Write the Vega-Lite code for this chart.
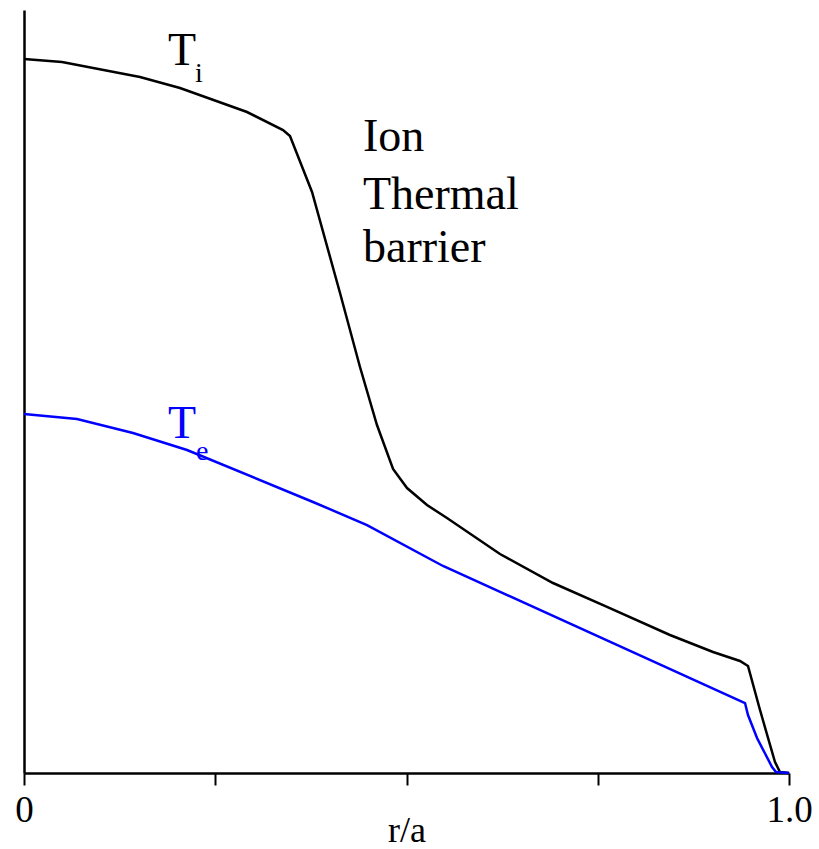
{
  "$schema": "https://vega.github.io/schema/vega-lite/v6.json",
  "autosize": "none",
  "width": 765,
  "height": 763,
  "padding": {"left": 24, "top": 10, "right": 30, "bottom": 76},
  "background": "white",
  "config": {
    "view": {"stroke": null},
    "font": "Liberation Serif"
  },
  "datasets": {
    "profiles": [
      {"series": "Ti", "r": 0, "T": 93.58},
      {"series": "Ti", "r": 0.0497, "T": 93.18},
      {"series": "Ti", "r": 0.1516, "T": 91.22},
      {"series": "Ti", "r": 0.2039, "T": 89.78},
      {"series": "Ti", "r": 0.2915, "T": 86.63},
      {"series": "Ti", "r": 0.3386, "T": 84.27},
      {"series": "Ti", "r": 0.3477, "T": 83.49},
      {"series": "Ti", "r": 0.3765, "T": 76.15},
      {"series": "Ti", "r": 0.4131, "T": 62.91},
      {"series": "Ti", "r": 0.4392, "T": 53.21},
      {"series": "Ti", "r": 0.4614, "T": 45.61},
      {"series": "Ti", "r": 0.4824, "T": 39.84},
      {"series": "Ti", "r": 0.5007, "T": 37.35},
      {"series": "Ti", "r": 0.5268, "T": 35.12},
      {"series": "Ti", "r": 0.5529, "T": 33.42},
      {"series": "Ti", "r": 0.6222, "T": 28.7},
      {"series": "Ti", "r": 0.6915, "T": 24.9},
      {"series": "Ti", "r": 0.7621, "T": 21.76},
      {"series": "Ti", "r": 0.8444, "T": 18.09},
      {"series": "Ti", "r": 0.9007, "T": 15.86},
      {"series": "Ti", "r": 0.9359, "T": 14.68},
      {"series": "Ti", "r": 0.9464, "T": 14.02},
      {"series": "Ti", "r": 0.9621, "T": 8.26},
      {"series": "Ti", "r": 0.9817, "T": 1.44},
      {"series": "Ti", "r": 0.9882, "T": 0.13},
      {"series": "Ti", "r": 1.0, "T": 0},
      {"series": "Te", "r": 0, "T": 47.05},
      {"series": "Te", "r": 0.0693, "T": 46.4},
      {"series": "Te", "r": 0.1425, "T": 44.56},
      {"series": "Te", "r": 0.2131, "T": 42.33},
      {"series": "Te", "r": 0.3778, "T": 35.52},
      {"series": "Te", "r": 0.4484, "T": 32.5},
      {"series": "Te", "r": 0.5477, "T": 27.13},
      {"series": "Te", "r": 0.9425, "T": 9.17},
      {"series": "Te", "r": 0.9464, "T": 7.6},
      {"series": "Te", "r": 0.9582, "T": 4.59},
      {"series": "Te", "r": 0.9778, "T": 0.79},
      {"series": "Te", "r": 0.983, "T": 0.13},
      {"series": "Te", "r": 1.0, "T": 0}
    ],
    "labels": [
      {"series": "Ti", "kind": "main", "r": 0.1882, "T": 92.79, "text": "T"},
      {"series": "Ti", "kind": "sub", "r": 0.2235, "T": 90.56, "text": "i"},
      {"series": "Te", "kind": "main", "r": 0.1882, "T": 43.91, "text": "T"},
      {"series": "Te", "kind": "sub", "r": 0.2248, "T": 41.02, "text": "e"},
      {"series": "Ti", "kind": "main", "r": 0.4431, "T": 81.52, "text": "Ion"},
      {"series": "Ti", "kind": "main", "r": 0.4431, "T": 73.92, "text": "Thermal"},
      {"series": "Ti", "kind": "main", "r": 0.4431, "T": 66.97, "text": "barrier"}
    ]
  },
  "layer": [
    {
      "data": {"name": "profiles"},
      "mark": {"type": "line", "strokeWidth": 2.5},
      "encoding": {
        "x": {
          "field": "r",
          "type": "quantitative",
          "scale": {"domain": [0, 1], "nice": false, "zero": false},
          "axis": {
            "title": "r/a",
            "titleFont": "Liberation Serif",
            "titleFontSize": 36,
            "titleFontWeight": "normal",
            "titleColor": "black",
            "titleBaseline": "alphabetic",
            "titleY": 68,
            "values": [0, 0.25, 0.5, 0.75, 1],
            "labelExpr": "datum.value == 0 ? '0' : datum.value == 1 ? '1.0' : ''",
            "labelFont": "Liberation Serif",
            "labelFontSize": 37,
            "labelColor": "black",
            "labelFlush": false,
            "labelOverlap": false,
            "labelPadding": 7,
            "grid": false,
            "domainColor": "black",
            "domainWidth": 2.5,
            "tickColor": "black",
            "tickWidth": 2,
            "tickSize": 12
          }
        },
        "y": {
          "field": "T",
          "type": "quantitative",
          "scale": {"domain": [0, 100], "nice": false},
          "axis": {
            "title": null,
            "labels": false,
            "ticks": false,
            "grid": false,
            "domainColor": "black",
            "domainWidth": 2.5
          }
        },
        "color": {
          "field": "series",
          "type": "nominal",
          "scale": {"domain": ["Ti", "Te"], "range": ["black", "#0000ff"]},
          "legend": null
        }
      }
    },
    {
      "data": {"name": "labels"},
      "transform": [{"filter": "datum.kind == 'main'"}],
      "mark": {"type": "text", "align": "left", "baseline": "alphabetic", "fontSize": 46, "font": "Liberation Serif"},
      "encoding": {
        "x": {"field": "r", "type": "quantitative"},
        "y": {"field": "T", "type": "quantitative"},
        "text": {"field": "text"},
        "color": {"field": "series", "type": "nominal", "legend": null}
      }
    },
    {
      "data": {"name": "labels"},
      "transform": [{"filter": "datum.kind == 'sub'"}],
      "mark": {"type": "text", "align": "left", "baseline": "alphabetic", "fontSize": 28, "font": "Liberation Serif"},
      "encoding": {
        "x": {"field": "r", "type": "quantitative"},
        "y": {"field": "T", "type": "quantitative"},
        "text": {"field": "text"},
        "color": {"field": "series", "type": "nominal", "legend": null}
      }
    }
  ]
}
